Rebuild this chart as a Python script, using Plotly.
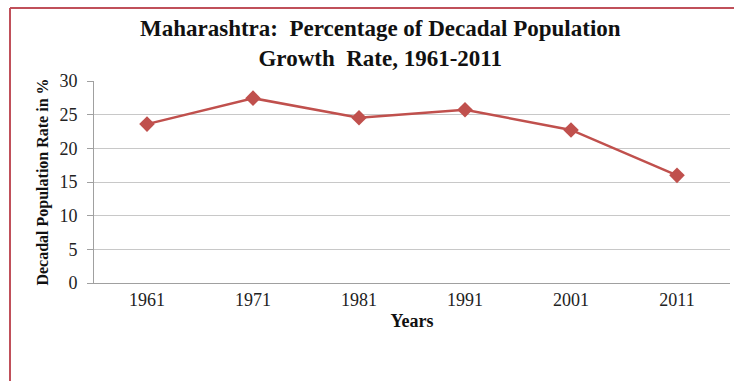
import plotly.graph_objects as go

years = ["1961", "1971", "1981", "1991", "2001", "2011"]
growth_rate = [23.60, 27.45, 24.54, 25.73, 22.73, 15.99]
y_ticks = [0, 5, 10, 15, 20, 25, 30]
title_lines = ["Maharashtra:  Percentage of Decadal Population",
               "Growth  Rate, 1961-2011"]

W, H = 734, 381
L, R, T, B = 94, 4, 81, 98
pw = W - L - R
ph = H - T - B

def px_x(x):
    return (x - L) / pw

def px_y(y):
    return (H - B - y) / ph

line_red = "#C0504D"
frame_red = "#C0505A"
grid = "#C8C8C8"
serif = "Liberation Serif, Times New Roman, serif"

fig = go.Figure()
fig.add_trace(go.Scatter(
    x=years, y=growth_rate, mode="lines+markers",
    line=dict(color=line_red, width=2.5),
    marker=dict(symbol="diamond", size=12, color=line_red),
    showlegend=False, hoverinfo="skip",
))

# two-line chart title as one centred text block
title_text = "<b>" + "<br>".join(title_lines) + "</b>"

fig.update_layout(
    width=W, height=H,
    margin=dict(l=L, r=R, t=T, b=B),
    paper_bgcolor="white", plot_bgcolor="white",
    font=dict(family=serif, color="#222222"),
    annotations=[dict(
        text=title_text, xref="paper", yref="paper",
        x=px_x(380), y=px_y(43.5), xanchor="center", yanchor="middle",
        showarrow=False, font=dict(size=23, family=serif, color="#111111"),
    )],
    xaxis=dict(
        type="category", range=[-0.5, 5.5],
        showgrid=False, showline=True, linecolor="#A0A0A0", linewidth=1,
        ticks="", tickfont=dict(size=18, family=serif, color="#222222"),
        title=dict(text="<b>Years</b>", font=dict(size=18, family=serif, color="#111111"), standoff=5),
    ),
    yaxis=dict(
        range=[0, 30], tickvals=y_ticks,
        showgrid=True, gridcolor=grid, gridwidth=1,
        showline=True, linecolor="#A0A0A0", linewidth=1,
        ticks="outside", ticklen=6, tickcolor="#A0A0A0",
        ticklabelstandoff=6,
        tickfont=dict(size=18, family=serif, color="#222222"),
        title=dict(text="<b>Decadal Population Rate in %</b>",
                   font=dict(size=16, family=serif, color="#111111"), standoff=6),
        zeroline=False,
    ),
    shapes=[
        dict(type="line", xref="paper", yref="paper",
             x0=px_x(10), x1=px_x(W + 10), y0=px_y(8), y1=px_y(8),
             line=dict(color=frame_red, width=2)),
        dict(type="line", xref="paper", yref="paper",
             x0=px_x(10), x1=px_x(10), y0=px_y(8), y1=px_y(H + 10),
             line=dict(color=frame_red, width=2)),
    ],
)

fig.write_html("out.html")
